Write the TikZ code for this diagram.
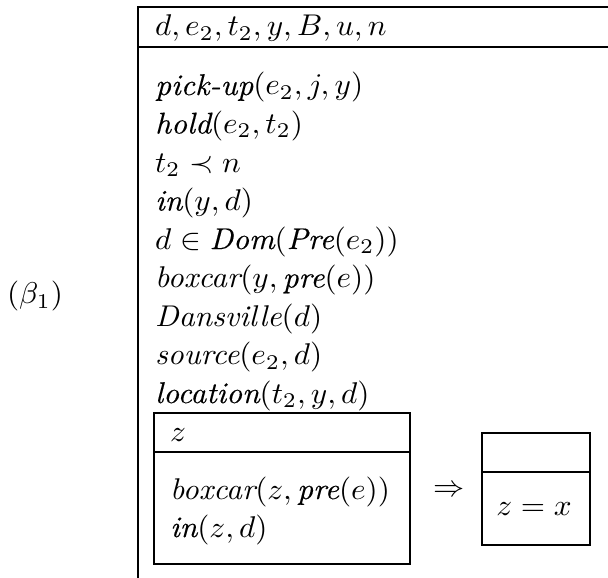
\documentclass[tikz,border=0pt]{standalone}
\usepackage[no-math]{fontspec}
\usepackage{graphicx}
\newfontfamily\lmi{Latin Modern Roman}
\newfontfamily\lmh{Latin Modern Roman}[FakeBold=0.3]
\newcommand\xwide[1]{\scalebox{3.12}[3.0]{#1}}
\newcommand\pb[1]{\mbox{\lmh\itshape #1}}
\newcommand\pn[1]{\mbox{\lmi\itshape #1}}
\tikzset{
  txt/.style={anchor=base west, inner sep=0pt, font=\fontsize{10}{12}\selectfont},
  ctxt/.style={anchor=center, inner sep=0pt, font=\fontsize{10}{12}\selectfont},
  rule/.style={line width=1.6pt, line cap=rect},
  boxline/.style={line width=1.6pt}
}
\begin{document}
\begin{tikzpicture}[x=1pt,y=-1pt]
\useasboundingbox (0,0) rectangle (608,578);
% outer DRS frame
\coordinate (tl) at (138,7);
\coordinate (tr) at (608,7);
\coordinate (hl) at (138,47);
\coordinate (hr) at (608,47);
\coordinate (bl) at (138,578);
\draw[rule] (tr) -- (tl) -- (bl);
\draw[boxline] (hl) -- (hr);
% label
\node[ctxt] (lab) at (35,296) {\xwide{$(\beta_1)$}};
% header
\node[txt] (hdr) at (155,36) {\xwide{$d, e_2, t_2, y, B, u, n$}};
% conditions
\node[txt] (c1) at (155,95)    {\xwide{\pb{pick-up}$(e_2, j, y)$}};
\node[txt] (c2) at (155,133.5) {\xwide{\pb{hold}$(e_2, t_2)$}};
\node[txt] (c3) at (155,172)   {\xwide{$t_2 \prec n$}};
\node[txt] (c4) at (155,210.5) {\xwide{\pb{in}$(y, d)$}};
\node[txt] (c5) at (155,249)   {\xwide{$d \in \pb{Dom}(\pb{Pre}(e_2))$}};
\node[txt] (c6) at (155,287.5) {\xwide{\pn{boxcar}$(y, \pb{pre}(e))$}};
\node[txt] (c7) at (155,326)   {\xwide{\pn{Dansville}$(d)$}};
\node[txt] (c8) at (155,364.5) {\xwide{\pn{source}$(e_2, d)$}};
\node[txt] (c9) at (155,403)   {\xwide{\pb{location}$(t_2, y, d)$}};
% inner box (antecedent)
\draw[boxline] (154,413) rectangle (410,564);
\draw[boxline] (154,452) -- (410,452);
\node[txt] (az) at (170,441) {\xwide{$z$}};
\node[txt] (a1) at (170,499) {\xwide{\pn{boxcar}$(z, \pb{pre}(e))$}};
\node[txt] (a2) at (170,537) {\xwide{\pb{in}$(z, d)$}};
% implication
\node[ctxt] (imp) at (449,491) {\xwide{$\Rightarrow$}};
% consequent box
\draw[boxline] (482,433) rectangle (590,545);
\draw[boxline] (482,472) -- (590,472);
\node[ctxt] (cz) at (534,509) {\xwide{$z = x$}};
\end{tikzpicture}
\end{document}
